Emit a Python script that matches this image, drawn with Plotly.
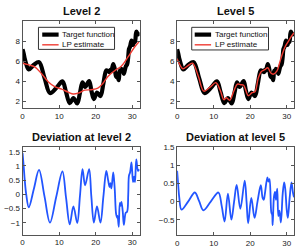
import plotly.graph_objects as go

# ---------------- data ----------------
x_target = [0, 0.3, 0.6, 1.0, 1.7, 3.1, 4.5, 6.0, 7.5, 9.2, 10.9, 11.9, 12.9, 13.9, 14.95,
            15.7, 16.4, 17.1, 18.2, 18.8, 19.5, 20.35, 21.3, 22.1, 22.9, 23.4, 23.8, 24.05,
            24.3, 24.8, 25.2, 25.6, 25.9, 26.0, 26.3, 26.6, 26.85, 27.05, 27.4, 27.7, 28.2,
            28.6, 28.9, 29.1, 29.4, 29.8, 30.2, 30.5, 30.75, 31.1, 31.6, 32]
y_target = [7.2, 6.77, 6.25, 5.72, 5.18, 5.65, 5.91, 4.33, 2.81, 3.31, 3.99, 2.9, 1.8, 2.3, 1.78,
            2.85, 3.89, 3.42, 4.02, 3.1, 2.21, 2.86, 2.51, 3.77, 5.08, 5.0, 4.91, 5.15,
            5.06, 5.72, 5.25, 4.45, 4.38, 4.5, 4.1, 5.05, 5.05, 5.24, 5.05, 4.73, 5.45,
            5.7, 6.45, 7.21, 7.47, 8.07, 7.63, 7.97, 7.93, 8.95, 8.68, 8.88]

x_lp2 = [0, 1.0, 2.0, 3.4, 5.2, 7.0, 8.8, 10.7, 12.5, 13.9, 15.2, 17.0, 18.8, 20.6, 22.0,
         23.4, 25.2, 27.0, 28.8, 30.6, 32]
y_lp2 = [5.79, 5.7, 5.6, 5.4, 4.75, 3.95, 3.45, 3.2, 2.9, 2.72, 2.8, 3.1, 3.15, 3.3, 3.8,
         4.5, 5.05, 5.5, 6.4, 7.4, 8.0]

x_lp5 = [0, 0.8, 1.6, 2.8, 4.2, 5.8, 7.3, 9.0, 10.6, 11.8, 12.8, 13.5, 14.4, 15.5, 16.5,
         17.4, 18.2, 19.5, 20.5, 21.3, 22.2, 23.0, 24.0, 24.8, 25.6, 26.3, 27.3, 28.1,
         28.6, 29.5, 30.3, 31.3, 32]
y_lp5 = [6.25, 5.6, 5.25, 5.5, 5.8, 4.5, 3.0, 3.4, 3.85, 3.1, 2.15, 2.35, 2.1, 3.0, 3.7,
         3.65, 3.6, 2.55, 2.85, 2.95, 4.3, 4.95, 5.15, 5.35, 4.85, 4.7, 5.0, 5.9,
         6.5, 7.4, 7.9, 8.5, 8.85]

x_dev2 = [0, 0.3, 0.6, 1.0, 1.7, 3.1, 4.5, 6.0, 7.5, 9.2, 10.9, 11.9, 12.9, 13.9, 14.95,
          15.7, 16.4, 17.1, 18.2, 18.8, 19.5, 20.35, 21.3, 22.1, 22.9, 23.4, 23.8, 24.05,
          24.3, 24.8, 25.2, 25.6, 25.9, 26.0, 26.3, 26.6, 26.85, 27.05, 27.4, 27.7, 28.2,
          28.6, 28.9, 29.1, 29.4, 29.8, 30.2, 30.5, 30.75, 31.1, 31.6, 32]
y_dev2 = [1.45, 1.0, 0.5, 0.0, -0.45, 0.2, 0.86, -0.07, -0.99, -0.09, 0.81, -0.12, -1.05, -0.42, -1.0,
          -0.05, 0.89, 0.32, 0.89, -0.05, -0.99, -0.42, -0.99, -0.08, 0.83, 0.5, 0.26, 0.4,
          0.21, 0.77, 0.2, -0.7, -0.82, -0.75, -1.14, -0.3, -0.4, -0.26, -0.6, -1.07, -0.65,
          -0.6, 0.0, 0.66, 0.77, 1.12, 0.43, 0.62, 0.43, 1.23, 0.83, 0.88]

x_dev5 = [0, 0.3, 0.6, 1.2, 3.0, 4.85, 6.0, 7.2, 9.2, 11.3, 12.2, 13.0, 13.9, 14.85, 15.6,
          16.3, 17.3, 18.5, 19.0, 19.45, 20.3, 21.2, 22.0, 22.9, 23.4, 23.7, 24.0, 24.7,
          25.0, 25.3, 25.8, 26.0, 26.15, 26.5, 26.8, 27.05, 27.4, 27.7, 28.0, 28.4, 28.9,
          29.3, 29.6, 30.0, 30.3, 30.8, 31.3, 31.7, 32]
y_dev5 = [0.85, 0.45, 0.1, -0.22, 0.0, 0.25, 0.02, -0.24, 0.0, 0.25, -0.12, -0.55, 0.22, -0.5, 0.0,
          0.46, -0.2, 0.58, 0.0, -0.6, 0.1, -0.45, 0.0, 0.45, 0.1, 0.05, 0.2, 0.67,
          0.55, 0.62, -0.31, -0.35, -0.65, 0.13, 0.27, 0.05, 0.36, -0.4, -0.25, -0.58, 0.22,
          0.53, 0.35, -0.23, -0.45, 0.1, 0.53, 0.25, 0.12]

x_ticks = [0, 10, 20, 30]
y_ticks_top = [2, 4, 6, 8]
y_ticks_dev2 = [-1, -0.5, 0, 0.5, 1, 1.5]
y_ticks_dev5 = [-0.5, 0, 0.5, 1, 1.5]
titles = ["Level 2", "Level 5", "Deviation at level 2", "Deviation at level 5"]
legend_labels = ["Target function", "LP estimate"]

# ---------------- styling ----------------
W, H = 299, 248
FONT = "Liberation Sans, Arial, Helvetica, sans-serif"
BLACK = "#000000"
RED = "#f03c32"
BLUE = "#2255ff"
AX = "#555555"

def px(x):
    return x / W

def py(y):
    return 1 - y / H

fig = go.Figure()

def line(xs, ys, color, width, xa, ya):
    fig.add_trace(go.Scatter(x=xs, y=ys, mode="lines", xaxis=xa, yaxis=ya,
                             line=dict(color=color, width=width, shape="spline", smoothing=1.0),
                             showlegend=False, hoverinfo="skip"))

line(x_target, y_target, BLACK, 4.2, "x", "y")
line(x_lp2, y_lp2, RED, 1.4, "x", "y")
line(x_target, y_target, BLACK, 4.2, "x2", "y2")
line(x_lp5, y_lp5, RED, 1.4, "x2", "y2")
line(x_dev2, y_dev2, BLUE, 1.8, "x3", "y3")
line(x_dev5, y_dev5, BLUE, 1.8, "x4", "y4")

def xax(dom, anchor):
    return dict(domain=dom, anchor=anchor, range=[0, 32], tickvals=x_ticks,
                ticks="inside", ticklen=3, tickcolor=AX, showline=True, linecolor=AX,
                linewidth=1, mirror="ticks", showgrid=False, zeroline=False,
                tickfont=dict(size=8, color="#222", family=FONT))

def yax(dom, anchor, rng, tv):
    return dict(domain=dom, anchor=anchor, range=rng, tickvals=tv,
                ticks="inside", ticklen=3, tickcolor=AX, showline=True, linecolor=AX,
                linewidth=1, mirror="ticks", showgrid=False, zeroline=False,
                tickfont=dict(size=8, color="#222", family=FONT))

left = [px(20.7), px(138.5)]
right = [px(176.3), px(294)]
top = [py(107), py(17)]
bot_l = [py(237.3), py(147.3)]
bot_r = [py(238), py(147)]

fig.update_layout(
    width=W, height=H, margin=dict(l=0, r=0, t=0, b=0),
    paper_bgcolor="white", plot_bgcolor="white",
    font=dict(family=FONT, size=8, color="#222"),
    xaxis=xax(left, "y"), yaxis=yax(top, "x", [1.32, 10.07], y_ticks_top),
    xaxis2=xax(right, "y2"), yaxis2=yax(top, "x2", [1.32, 10.07], y_ticks_top),
    xaxis3=xax(left, "y3"), yaxis3=yax(bot_l, "x3", [-1.41, 1.66], y_ticks_dev2),
    xaxis4=xax(right, "y4"), yaxis4=yax(bot_r, "x4", [-0.93, 1.51], y_ticks_dev5),
)

# titles
title_pos = [((left[0] + left[1]) / 2, py(6.7)), ((right[0] + right[1]) / 2, py(6.7)),
             ((left[0] + left[1]) / 2, py(137.3)), ((right[0] + right[1]) / 2, py(137.3))]
for t, (tx, ty) in zip(titles, title_pos):
    fig.add_annotation(text="<b>%s</b>" % t, x=tx, y=ty, xref="paper", yref="paper",
                       xanchor="center", yanchor="middle", showarrow=False,
                       font=dict(size=11, color="#111", family=FONT))

# legends (drawn as boxes with line samples)
for (bx0, bx1, by0, by1, sx0, sx1, tx0) in [(36.7, 113.3, 24, 46.7, 40.5, 57, 58.5),
                                            (191, 268.3, 24, 47.3, 194, 210.5, 212)]:
    fig.add_shape(type="rect", xref="paper", yref="paper", x0=px(bx0), x1=px(bx1),
                  y0=py(by1), y1=py(by0), line=dict(color="#333", width=1),
                  fillcolor="white", layer="above")
    for lab, col, wd, yy in [(legend_labels[0], BLACK, 4.2, by0 + 7.5),
                             (legend_labels[1], RED, 1.4, by0 + 18)]:
        fig.add_shape(type="line", xref="paper", yref="paper", x0=px(sx0), x1=px(sx1),
                      y0=py(yy), y1=py(yy), line=dict(color=col, width=wd), layer="above")
        fig.add_annotation(text=lab, x=px(tx0), y=py(yy), xref="paper", yref="paper",
                           xanchor="left", yanchor="middle", showarrow=False,
                           font=dict(size=8, color="#111", family=FONT))

fig.write_html("out.html",
               config={"displayModeBar": False, "staticPlot": True},
               post_script="document.body.style.margin='0';"
                           "document.documentElement.style.overflow='hidden';")
